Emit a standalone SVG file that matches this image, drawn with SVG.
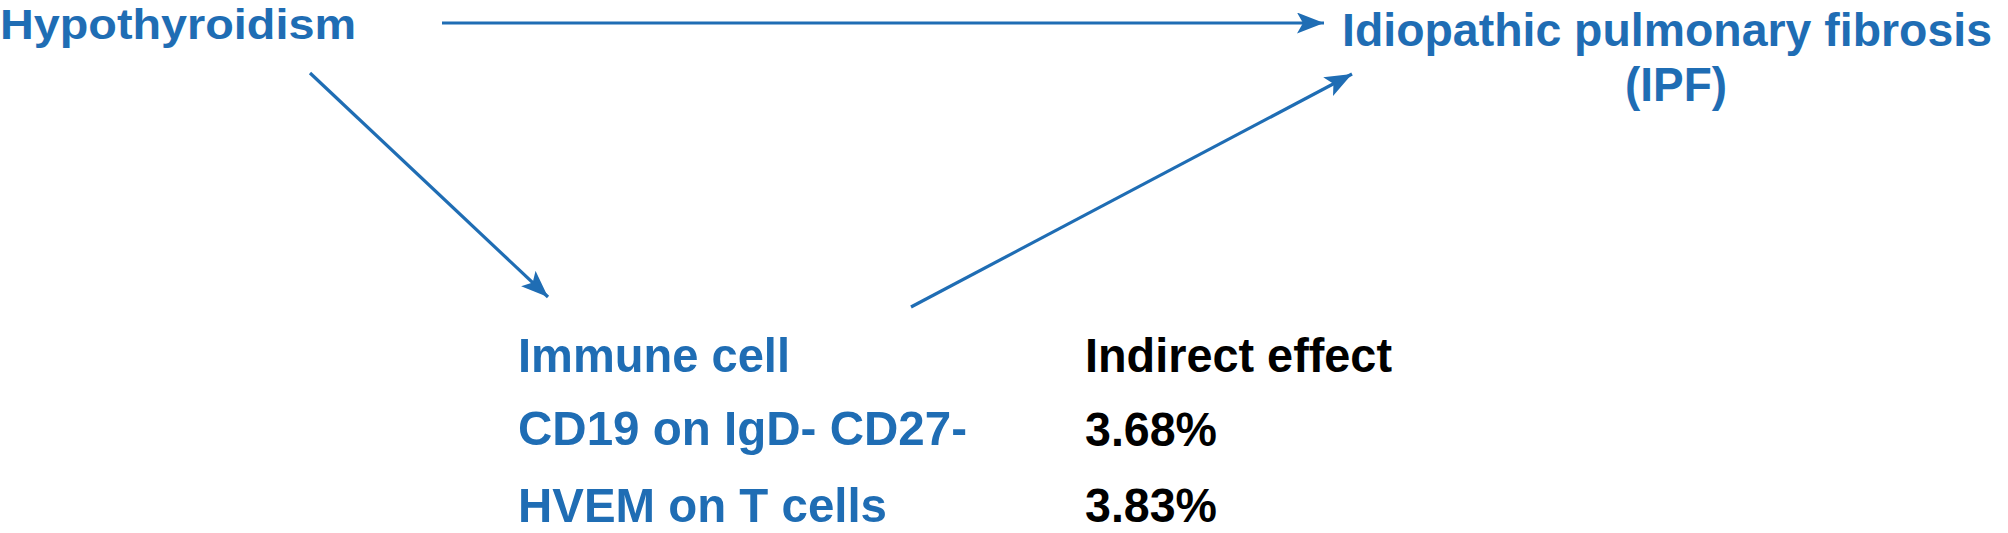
<svg xmlns="http://www.w3.org/2000/svg" width="2008" height="533" viewBox="0 0 2008 533">
  <style>
    text { font-family: "Liberation Sans", Arial, sans-serif; font-weight: bold; }
    .blue { fill: #1f6db4; }
    .black { fill: #000000; }
    .conn { stroke: #1f6db4; stroke-width: 3.2; fill: none; marker-end: url(#ah); }
  </style>
  <defs>
    <marker id="ah" markerUnits="userSpaceOnUse" markerWidth="30" markerHeight="24" refX="27" refY="10.5" orient="auto">
      <path d="M0,0 L27,10.5 L0,21 L6,10.5 z" fill="#1f6db4"/>
    </marker>
  </defs>
  <rect width="2008" height="533" fill="#ffffff"/>
  <g id="connectors">
    <line class="conn" x1="442" y1="23" x2="1324" y2="23"/>
    <line class="conn" x1="310" y1="73" x2="548" y2="297"/>
    <line class="conn" x1="911" y1="307" x2="1352" y2="74"/>
  </g>
  <g id="node-hypothyroidism">
    <text class="blue" x="0" y="39" font-size="43" textLength="356" lengthAdjust="spacingAndGlyphs">Hypothyroidism</text>
  </g>
  <g id="node-ipf">
    <text class="blue" x="1342" y="46" font-size="47" textLength="650" lengthAdjust="spacingAndGlyphs">Idiopathic pulmonary fibrosis</text>
    <text class="blue" x="1625" y="101" font-size="48" textLength="102" lengthAdjust="spacingAndGlyphs">(IPF)</text>
  </g>
  <g id="node-immune-table">
    <text class="blue" x="518" y="372" font-size="49" textLength="272" lengthAdjust="spacingAndGlyphs">Immune cell</text>
    <text class="black" x="1085" y="372" font-size="49" textLength="307" lengthAdjust="spacingAndGlyphs">Indirect effect</text>
    <text class="blue" x="518" y="445" font-size="49" textLength="449" lengthAdjust="spacingAndGlyphs">CD19 on IgD- CD27-</text>
    <text class="black" x="1085" y="446" font-size="49" textLength="132" lengthAdjust="spacingAndGlyphs">3.68%</text>
    <text class="blue" x="518" y="522" font-size="49" textLength="369" lengthAdjust="spacingAndGlyphs">HVEM on T cells</text>
    <text class="black" x="1085" y="522" font-size="49" textLength="132" lengthAdjust="spacingAndGlyphs">3.83%</text>
  </g>
</svg>
